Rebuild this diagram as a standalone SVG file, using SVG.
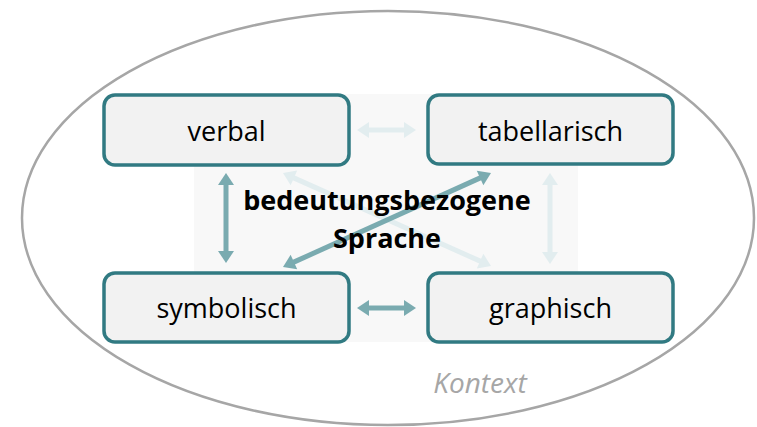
<svg xmlns="http://www.w3.org/2000/svg" width="757" height="427" viewBox="0 0 757 427">
<style>
.box{fill:#F2F2F2;stroke:#317A82;stroke-width:3.5}
.lbl{font-family:"Open Sans","Liberation Sans",sans-serif;font-size:27px;fill:#000;text-anchor:middle}
.mid{stroke:#7AABB0;stroke-width:5;fill:none;marker-start:url(#hm);marker-end:url(#hm)}
.lite{stroke:#E2EDEF;stroke-width:5;fill:none;marker-start:url(#hl);marker-end:url(#hl)}
</style>
<defs>
<marker id="hm" markerUnits="userSpaceOnUse" orient="auto-start-reverse" refX="2" refY="0" markerWidth="14" markerHeight="16" overflow="visible"><path d="M0,-8 L12,0 L0,8 Z" fill="#7AABB0"/></marker>
<marker id="hl" markerUnits="userSpaceOnUse" orient="auto-start-reverse" refX="2" refY="0" markerWidth="14" markerHeight="16" overflow="visible"><path d="M0,-8 L12,0 L0,8 Z" fill="#E2EDEF"/></marker>
</defs>
<rect width="757" height="427" fill="#FFFFFF"/>
<g id="kontext">
<ellipse cx="388" cy="218" rx="366" ry="207" fill="none" stroke="#A6A6A6" stroke-width="2.5"/>
<text x="480" y="393" font-family="'Open Sans','Liberation Sans',sans-serif" font-size="28" font-style="italic" fill="#A6A6A6" text-anchor="middle">Kontext</text>
</g>
<rect id="center-bg" x="194" y="94" width="384" height="248" fill="#F8F8F8"/>
<g id="connectors">
<line class="lite" x1="367" y1="130" x2="406" y2="130"/>
<line class="lite" x1="550" y1="183" x2="550" y2="254"/>
<line class="lite" x1="292.1" y1="177.1" x2="481.9" y2="261.9"/>
<line class="mid" x1="367" y1="308" x2="406" y2="308"/>
<line class="mid" x1="226" y1="183" x2="226" y2="253"/>
<line class="mid" x1="292.1" y1="262.9" x2="481.9" y2="177.1"/>
</g>
<g id="center-label">
<text x="387" y="210" font-family="'Open Sans','Liberation Sans',sans-serif" font-size="27" font-weight="bold" fill="#000" text-anchor="middle">bedeutungsbezogene</text>
<text x="387" y="248" font-family="'Open Sans','Liberation Sans',sans-serif" font-size="27" font-weight="bold" fill="#000" text-anchor="middle">Sprache</text>
</g>
<g id="verbal">
<rect class="box" x="104" y="95" width="245" height="70" rx="11"/>
<text class="lbl" x="226.5" y="141">verbal</text>
</g>
<g id="tabellarisch">
<rect class="box" x="428" y="95" width="245" height="69" rx="11"/>
<text class="lbl" x="550.5" y="141">tabellarisch</text>
</g>
<g id="symbolisch">
<rect class="box" x="104" y="273" width="245" height="69" rx="11"/>
<text class="lbl" x="226.5" y="318">symbolisch</text>
</g>
<g id="graphisch">
<rect class="box" x="428" y="273" width="245" height="69" rx="11"/>
<text class="lbl" x="550.5" y="318">graphisch</text>
</g>
</svg>
